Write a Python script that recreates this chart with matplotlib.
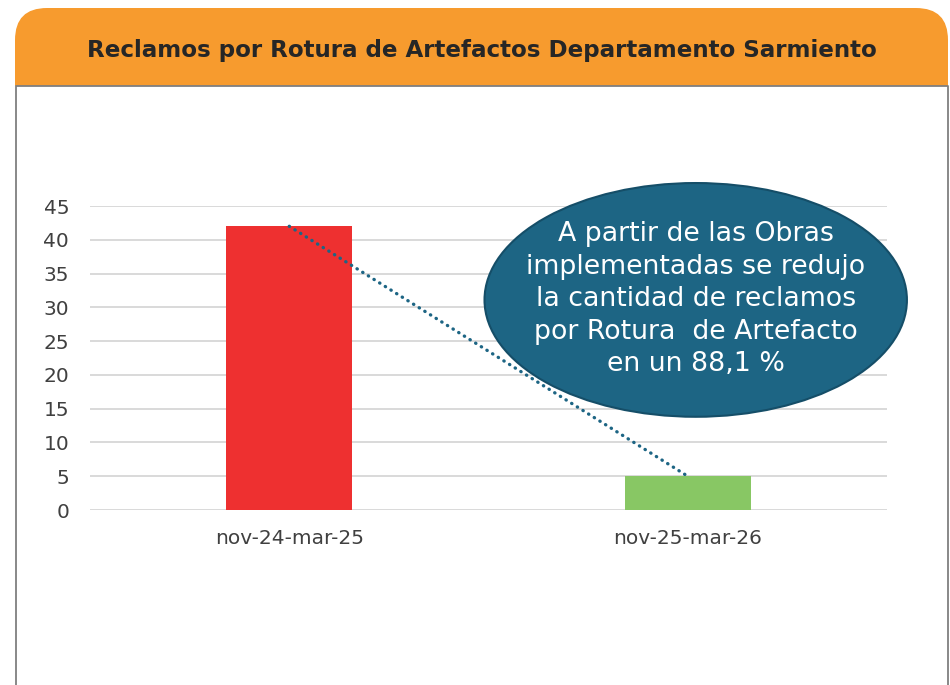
import matplotlib
matplotlib.use('Agg')
import matplotlib.pyplot as plt
from matplotlib.patches import FancyBboxPatch, Rectangle, Ellipse

plt.rcParams['font.family'] = ['DejaVu Sans']

# data
periods = ['nov-24-mar-25', 'nov-25-mar-26']
reclamos = [42, 5]
bar_colors = ['#ee3030', '#88c764']
y_ticks = [0, 5, 10, 15, 20, 25, 30, 35, 40, 45]
title = 'Reclamos por Rotura de Artefactos Departamento Sarmiento'
note = ('A partir de las Obras\nimplementadas se redujo\nla cantidad de reclamos\n'
        'por Rotura  de Artefacto\nen un 88,1 %')

fig = plt.figure(figsize=(9.5, 6.85), dpi=100)

# background frame: orange header + grey bordered panel (pixel coords)
bg = fig.add_axes([0, 0, 1, 1], zorder=0)
bg.set_xlim(0, 950)
bg.set_ylim(685, 0)
bg.axis('off')
bg.add_patch(FancyBboxPatch((15, 8), 933, 78, boxstyle='round,pad=0,rounding_size=32',
                            fc='#f79b2e', ec='none'))
bg.add_patch(Rectangle((15, 50), 933, 36, fc='#f79b2e', ec='none'))
bg.plot([16, 16, 947.5, 947.5], [690, 86, 86, 690], color='#7f7f7f', lw=1.3)
bg.text(482, 50, title, ha='center', va='center', fontsize=16.6,
        fontweight='bold', color='#262626')

# chart
ax = fig.add_axes([90 / 950, 1 - 510 / 685, 797 / 950, 304 / 685], zorder=1)
ax.patch.set_alpha(0)
x = range(len(periods))
ax.bar(x, reclamos, width=0.315, color=bar_colors, zorder=2)
ax.plot(x, reclamos, color='#1d6584', lw=2.4, linestyle=(0, (0.1, 1.9)),
        dash_capstyle='round', zorder=3)
ax.set_xlim(-0.5, 1.5)
ax.set_ylim(0, 45)
ax.set_yticks(y_ticks)
ax.set_xticks(list(x))
ax.set_xticklabels(periods)
ax.grid(axis='y', color='#d9d9d9', lw=1.4, zorder=0)
ax.set_axisbelow(True)
for s in ax.spines.values():
    s.set_visible(False)
ax.tick_params(axis='both', length=0, labelsize=14.5, labelcolor='#404040')
ax.tick_params(axis='y', pad=15)
ax.tick_params(axis='x', pad=14)

ell = Ellipse((1.02, 31.1), 1.06, 34.6, fc='#1d6584', ec='#154e68', lw=1.5,
              zorder=4, clip_on=False)
ax.add_patch(ell)
ax.text(1.02, 31.2, note, ha='center', va='center', fontsize=19.3, color='white',
        linespacing=1.33, zorder=5)

fig.savefig('out.png', dpi=100)
